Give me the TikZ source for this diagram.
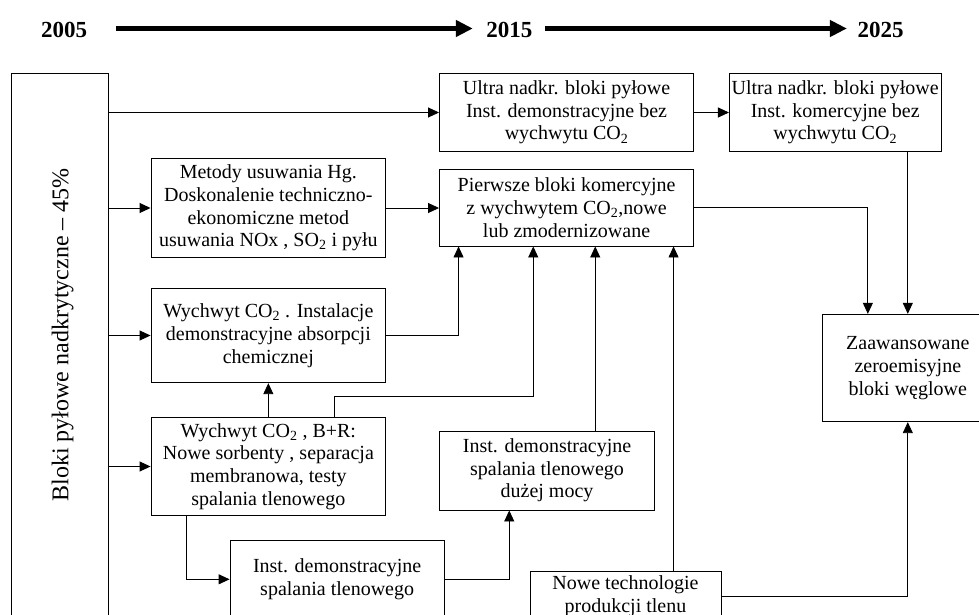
\documentclass[tikz,border=0pt]{standalone}
\usepackage{fontspec}
\setmainfont{Liberation Serif}
\usetikzlibrary{arrows.meta,calc}
\tikzset{
  box/.style={draw, line width=0.9pt, align=center, inner sep=0pt, font=\fontsize{20}{22.7}\selectfont},
  con/.style={line width=0.9pt, -{Triangle[length=11pt,width=10pt]}},
  year/.style={font=\bfseries\fontsize{23}{26}\selectfont, inner sep=0pt},
  tl/.style={line width=4.5pt, -{Triangle[length=17pt,width=16pt]}},
  bigtext/.style={font=\fontsize{24}{28}\selectfont, inner sep=0pt, rotate=90, anchor=base},
}
\begin{document}
\begin{tikzpicture}[x=1pt,y=-1pt]
\path[use as bounding box] (0,0) rectangle (979,615);
\clip (0,0) rectangle (979,615);

% timeline
\node[year] (y05) at (64,30) {2005};
\node[year] (y15) at (509.3,30) {2015};
\node[year] (y25) at (880.7,30) {2025};
\draw[tl] ([xshift=29pt,yshift=1.5pt]y05.east) -- ([xshift=-13.3pt,yshift=1.5pt]y15.west);
\draw[tl] ([xshift=12.3pt,yshift=1.5pt]y15.east) -- ([xshift=-10.6pt,yshift=1.5pt]y25.west);

% boxes
\node[box, minimum width=97.7pt, minimum height=546.7pt] (big) at (59.85,346.65) {};
\node[bigtext] (bigt) at (68.3,335) {Bloki pyłowe nadkrytyczne – 45\%};

\node[box, minimum width=254.1pt, minimum height=78.4pt] (U1) at (566.55,112.5)
  {Ultra nadkr. bloki pyłowe\\Inst. demonstracyjne bez\\wychwytu CO\textsubscript{2}};
\node[box, minimum width=211.6pt, minimum height=78.4pt] (U2) at (835.2,112.5)
  {Ultra nadkr. bloki pyłowe\\Inst. komercyjne bez\\wychwytu CO\textsubscript{2}};
\node[box, minimum width=234.7pt, minimum height=98.6pt] (Met) at (268.35,208)
  {Metody usuwania Hg.\\Doskonalenie techniczno-\\ekonomiczne metod\\usuwania NOx , SO\textsubscript{2} i pyłu};
\node[box, minimum width=254.1pt, minimum height=76.7pt] (Pier) at (566.55,207.65)
  {Pierwsze bloki komercyjne\\z wychwytem CO\textsubscript{2},nowe\\lub zmodernizowane};
\node[box, minimum width=234.7pt, minimum height=94.4pt] (W1) at (268.35,335.5)
  {Wychwyt CO\textsubscript{2} . Instalacje\\demonstracyjne absorpcji\\chemicznej};
\node[box, minimum width=234.7pt, minimum height=97.6pt] (BR) at (268.35,466.5)
  {Wychwyt CO\textsubscript{2} , B+R:\\Nowe sorbenty , separacja\\membranowa, testy\\spalania tlenowego};
\node[box, minimum width=215.5pt, minimum height=79pt] (Duz) at (547.05,470.5)
  {Inst. demonstracyjne\\spalania tlenowego\\dużej mocy};
\node[box, minimum width=214.3pt, minimum height=77.2pt] (Inst) at (337.15,579.3)
  {Inst. demonstracyjne\\spalania tlenowego};
\node[box, minimum width=191pt, minimum height=48.8pt] (Nowe) at (625.5,596.1)
  {Nowe technologie\\produkcji tlenu};
\node[box, minimum width=170pt, minimum height=107.4pt] (Zaaw) at (907.8,368)
  {Zaawansowane\\zeroemisyjne\\bloki węglowe};

% helper coordinates
\coordinate (p1) at ($(Pier.south west)+(19.5,0)$);
\coordinate (p2) at ($(Pier.south west)+(94.2,0)$);
\coordinate (p3) at ($(Pier.south west)+(156.2,0)$);
\coordinate (p4) at ($(Pier.south west)+(234.5,0)$);
\coordinate (z1) at ($(Zaaw.north west)+(45.5,0)$);
\coordinate (b1) at ($(BR.north west)+(184,0)$);
\coordinate (b2) at ($(BR.south west)+(35.7,0)$);
\coordinate (d1) at ($(Duz.south west)+(70.4,0)$);

% connectors
\draw[con] (big.east |- U1.west) -- (U1.west);
\draw[con] (big.east |- Met.west) -- (Met.west);
\draw[con] (big.east |- W1.west) -- (W1.west);
\draw[con] (big.east |- BR.west) -- (BR.west);
\draw[con] (Met.east) -- (Met.east -| Pier.west);
\draw[con] (U1.east) -- (U2.west);
\draw[con] (W1.east) -| (p1);
\draw[con] (BR.north) -- (W1.south);
\draw[con] (b1) -- ++(0,-21) -| (p2);
\draw[con] (Duz.north -| p3) -- (p3);
\draw[con] (Nowe.north -| p4) -- (p4);
\draw[con] (Pier.east) -| (z1);
\draw[con] (U2.south -| Zaaw.north) -- (Zaaw.north);
\draw[con] (b2) |- (Inst.west);
\draw[con] (Inst.east) -| (d1);
\draw[con] (Nowe.east) -| (Zaaw.south);
\end{tikzpicture}
\end{document}
